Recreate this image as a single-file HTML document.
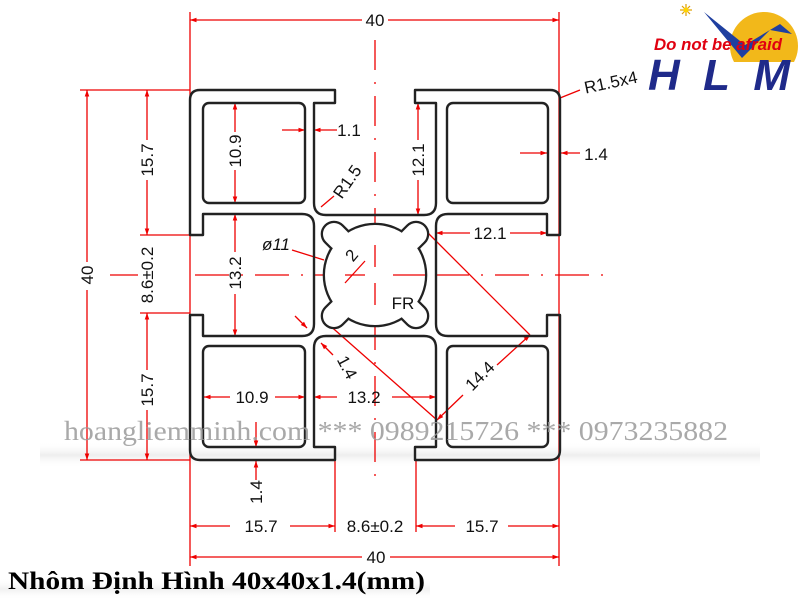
<!DOCTYPE html>
<html><head><meta charset="utf-8"><style>
html,body{margin:0;padding:0;background:#fff;}
svg{display:block;}
.d{font-family:"Liberation Sans",sans-serif;font-size:17px;fill:#111;}
</style></head><body>
<svg width="800" height="600" viewBox="0 0 800 600" xmlns="http://www.w3.org/2000/svg">
<defs>
<marker id="a" viewBox="0 0 10 10" refX="10" refY="5" markerWidth="9" markerHeight="5" orient="auto-start-reverse"><path d="M0,1.5 L10,5 L0,8.5z" fill="#e00"/></marker>
<linearGradient id="sh" x1="0" y1="0" x2="0" y2="1"><stop offset="0" stop-color="#fff" stop-opacity="0"/><stop offset="0.5" stop-color="#e2e2e2"/><stop offset="1" stop-color="#fff" stop-opacity="0"/></linearGradient>
</defs>
<rect width="800" height="600" fill="#fff"/>
<rect x="40" y="442" width="720" height="26" fill="url(#sh)" opacity="0.6"/>
<rect x="0" y="578" width="430" height="22" fill="url(#sh)" opacity="0.5"/>

<g stroke="#e00" stroke-width="1.3" fill="none">
 <line x1="190" y1="12" x2="190" y2="566"/>
 <line x1="559" y1="12" x2="559" y2="566"/>
 <line x1="80" y1="90" x2="190" y2="90"/>
 <line x1="80" y1="460" x2="190" y2="460"/>
 <line x1="140" y1="235" x2="190" y2="235"/>
 <line x1="140" y1="313" x2="190" y2="313"/>
 <line x1="335" y1="460" x2="335" y2="532"/>
 <line x1="416" y1="460" x2="416" y2="532"/>
 <line x1="190" y1="20" x2="362" y2="20" marker-start="url(#a)"/>
 <line x1="388" y1="20" x2="559" y2="20" marker-end="url(#a)"/>
 <line x1="87" y1="90" x2="87" y2="262" marker-start="url(#a)"/>
 <line x1="87" y1="290" x2="87" y2="460" marker-end="url(#a)"/>
 <line x1="147" y1="90" x2="147" y2="140" marker-start="url(#a)"/>
 <line x1="147" y1="180" x2="147" y2="235" marker-end="url(#a)"/>
 <line x1="147" y1="313" x2="147" y2="370" marker-start="url(#a)"/>
 <line x1="147" y1="410" x2="147" y2="460" marker-end="url(#a)"/>
 <line x1="110" y1="275" x2="138" y2="275"/>
 <line x1="235" y1="103" x2="235" y2="132" marker-start="url(#a)"/>
 <line x1="235" y1="170" x2="235" y2="203" marker-end="url(#a)"/>
 <line x1="235" y1="214" x2="235" y2="252" marker-start="url(#a)"/>
 <line x1="235" y1="294" x2="235" y2="336" marker-end="url(#a)"/>
 <line x1="282" y1="130" x2="305" y2="130" marker-end="url(#a)"/>
 <line x1="337" y1="130" x2="314" y2="130" marker-end="url(#a)"/>
 <line x1="418" y1="103" x2="418" y2="140" marker-start="url(#a)"/>
 <line x1="418" y1="180" x2="418" y2="215" marker-end="url(#a)"/>
 <line x1="321" y1="207" x2="334" y2="196"/>
 <line x1="520" y1="153" x2="547" y2="153" marker-end="url(#a)"/>
 <line x1="580" y1="153" x2="561" y2="153" marker-end="url(#a)"/>
 <line x1="436" y1="233" x2="470" y2="233" marker-start="url(#a)"/>
 <line x1="510" y1="233" x2="547" y2="233" marker-end="url(#a)"/>
 <line x1="560" y1="98" x2="580" y2="90"/>
 <line x1="292" y1="250" x2="324" y2="260"/>
 <line x1="335" y1="272" x2="345" y2="265" marker-end="url(#a)"/>
 <line x1="375" y1="232" x2="365" y2="242" marker-end="url(#a)"/>
 <line x1="295" y1="316" x2="307" y2="328" marker-end="url(#a)"/>
 <line x1="333" y1="355" x2="321" y2="343" marker-end="url(#a)"/>
 <line x1="427" y1="232" x2="530" y2="335"/>
 <line x1="327" y1="323" x2="437" y2="420"/>
 <line x1="530" y1="335" x2="497" y2="365" marker-start="url(#a)"/>
 <line x1="463" y1="395" x2="437" y2="420" marker-end="url(#a)"/>
 <line x1="204" y1="397" x2="230" y2="397" marker-start="url(#a)"/>
 <line x1="275" y1="397" x2="305" y2="397" marker-end="url(#a)"/>
 <line x1="314" y1="397" x2="337" y2="397" marker-start="url(#a)"/>
 <line x1="392" y1="397" x2="436" y2="397" marker-end="url(#a)"/>
 <line x1="256" y1="422" x2="256" y2="447" marker-end="url(#a)"/>
 <line x1="256" y1="480" x2="256" y2="461" marker-end="url(#a)"/>
 <line x1="190" y1="526" x2="230" y2="526" marker-start="url(#a)"/>
 <line x1="290" y1="526" x2="335" y2="526" marker-end="url(#a)"/>
 <line x1="416" y1="526" x2="455" y2="526" marker-start="url(#a)"/>
 <line x1="508" y1="526" x2="559" y2="526" marker-end="url(#a)"/>
 <line x1="190" y1="557" x2="362" y2="557" marker-start="url(#a)"/>
 <line x1="390" y1="557" x2="559" y2="557" marker-end="url(#a)"/>
 <line x1="195" y1="275" x2="615" y2="275" stroke-dasharray="34,12,2,12"/>
 <line x1="375" y1="40" x2="375" y2="480" stroke-dasharray="30,12,2,12"/>
</g>

<g fill="none" stroke="#222" stroke-width="2.4" stroke-linejoin="round">
<path d="M190,100 Q190,90 200,90 L335,90 L335,103 L314,103 L314,203 Q314,215 326,215 L424,215 Q436,215 436,203 L436,103 L415,103 L415,90 L550,90 Q560,90 560,100
L560,235 L547,235 L547,214 L448,214 Q436,214 436,226 L436,324 Q436,336 448,336 L547,336 L547,315 L560,315 L560,450 Q560,460 550,460
L415,460 L415,447 L436,447 L436,348 Q436,336 424,336 L326,336 Q314,336 314,348 L314,447 L335,447 L335,460 L200,460 Q190,460 190,450
L190,315 L203,315 L203,336 L302,336 Q314,336 314,324 L314,226 Q314,214 302,214 L203,214 L203,235 L190,235 Z"/>
<rect x="203" y="103" width="102" height="100" rx="6"/>
<rect x="447" y="103" width="101" height="100" rx="6"/>
<rect x="203" y="346" width="102" height="101" rx="6"/>
<rect x="447" y="346" width="101" height="101" rx="6"/>
</g>
<g transform="translate(375,275)">
 <g stroke="#222" stroke-width="4.6" fill="none">
  <circle r="50"/>
  <rect x="-11" y="-69" width="22" height="30" rx="11" transform="rotate(45)"/>
  <rect x="-11" y="-69" width="22" height="30" rx="11" transform="rotate(135)"/>
  <rect x="-11" y="-69" width="22" height="30" rx="11" transform="rotate(225)"/>
  <rect x="-11" y="-69" width="22" height="30" rx="11" transform="rotate(315)"/>
 </g>
 <g fill="#fff">
  <circle r="50"/>
  <rect x="-11" y="-69" width="22" height="30" rx="11" transform="rotate(45)"/>
  <rect x="-11" y="-69" width="22" height="30" rx="11" transform="rotate(135)"/>
  <rect x="-11" y="-69" width="22" height="30" rx="11" transform="rotate(225)"/>
  <rect x="-11" y="-69" width="22" height="30" rx="11" transform="rotate(315)"/>
 </g>
 <g stroke="#e00" stroke-width="1.3">
  <line x1="0" y1="-30" x2="0" y2="-8"/>
  <line x1="0" y1="8" x2="0" y2="30"/>
  <line x1="-30" y1="0" x2="-10" y2="0"/>
  <line x1="18" y1="0" x2="50" y2="0"/>
  <line x1="-30" y1="8" x2="-10" y2="-14"/>
 </g>
</g>

<g class="d" text-anchor="middle">
 <text x="375" y="26">40</text>
 <text transform="translate(93,275) rotate(-90)">40</text>
 <text transform="translate(153,160) rotate(-90)">15.7</text>
 <text transform="translate(153,275) rotate(-90)">8.6±0.2</text>
 <text transform="translate(153,390) rotate(-90)">15.7</text>
 <text transform="translate(241,151) rotate(-90)">10.9</text>
 <text transform="translate(241,273) rotate(-90)">13.2</text>
 <text x="349" y="136">1.1</text>
 <text transform="translate(424,160) rotate(-90)">12.1</text>
 <text transform="translate(352,185) rotate(-55)">R1.5</text>
 <text x="596" y="160">1.4</text>
 <text x="490" y="239">12.1</text>
 <text transform="translate(612,88) rotate(-12)">R1.5x4</text>
 <text x="276" y="250" font-style="italic">ø11</text>
 <text transform="translate(356,259) rotate(-50)">2</text>
 <text x="403" y="309">FR</text>
 <text transform="translate(342,370) rotate(62)">1.4</text>
 <text transform="translate(484,380) rotate(-45)">14.4</text>
 <text x="252" y="403">10.9</text>
 <text x="364" y="403">13.2</text>
 <text transform="translate(262,492) rotate(-90)">1.4</text>
 <text x="261" y="532">15.7</text>
 <text x="375" y="532">8.6±0.2</text>
 <text x="482" y="532">15.7</text>
 <text x="376" y="563">40</text>
</g>

<text x="64" y="440" font-family="Liberation Serif,serif" font-size="27" fill="#9a9a9a" fill-opacity="0.85" textLength="664" lengthAdjust="spacingAndGlyphs">hoangliemminh.com *** 0989215726 *** 0973235882</text>

<text x="8" y="589" font-family="Liberation Serif,serif" font-size="25" font-weight="bold" fill="#000" textLength="417" lengthAdjust="spacingAndGlyphs">Nhôm Định Hình 40x40x1.4(mm)</text>

<g>
 <circle cx="764" cy="46" r="34" fill="#f2b81a"/>
 <rect x="700" y="62" width="100" height="35" fill="#fff"/>
 <path d="M704,12 L745,45 L780,24 L792,34 L770,30 L742,58 Z" fill="#1f3fa0"/>
 <g transform="translate(686,10)" stroke="#e0a000" stroke-width="1.2">
  <line x1="-6" y1="0" x2="6" y2="0"/><line x1="0" y1="-6" x2="0" y2="6"/>
  <line x1="-4" y1="-4" x2="4" y2="4"/><line x1="-4" y1="4" x2="4" y2="-4"/>
  <circle r="2.5" fill="#ffd400" stroke="none"/>
 </g>
 <text x="654" y="50" font-family="Liberation Sans,sans-serif" font-size="17" font-weight="bold" font-style="italic" fill="#e00010" textLength="128" lengthAdjust="spacingAndGlyphs">Do not be afraid</text>
 <text x="648" y="90" font-family="Liberation Sans,sans-serif" font-size="44" font-weight="bold" font-style="italic" fill="#1f2a8a" textLength="142" lengthAdjust="spacing">HLM</text>
</g>
</svg>
</body></html>
